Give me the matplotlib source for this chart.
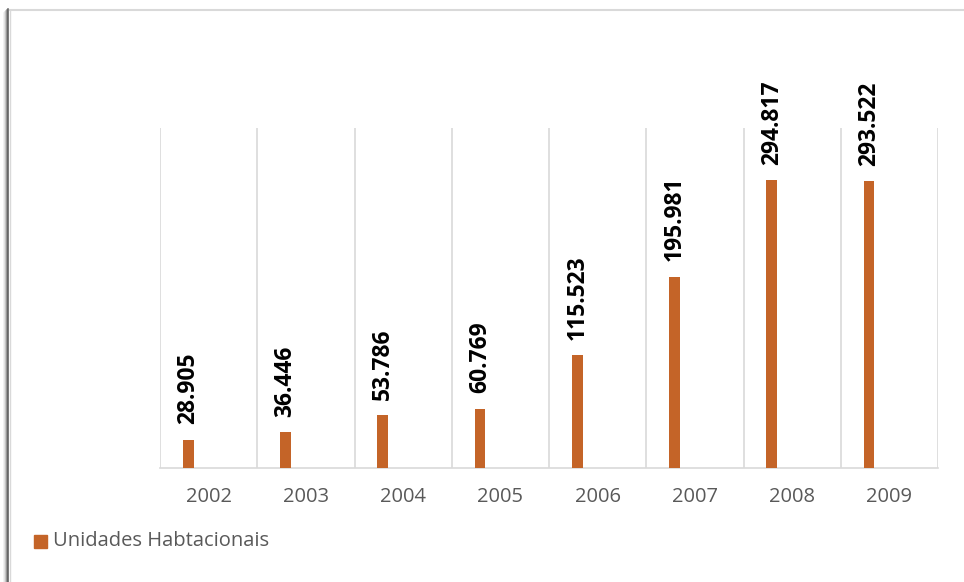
import matplotlib.pyplot as plt
from matplotlib.lines import Line2D
import numpy as np

plt.rcParams['font.family'] = ['Open Sans', 'DejaVu Sans']

anos = ['2002', '2003', '2004', '2005', '2006', '2007', '2008', '2009']
unidades = [28905, 36446, 53786, 60769, 115523, 195981, 294817, 293522]
rotulos = ['28.905', '36.446', '53.786', '60.769', '115.523', '195.981', '294.817', '293.522']
serie = 'Unidades Habtacionais'

cor = '#C46428'
W, H = 964, 582

fig = plt.figure(figsize=(W / 100, H / 100), dpi=100)
ax = fig.add_axes([160 / W, 1 - 468 / H, 778 / W, 340 / H])

x = np.arange(len(anos))
ax.bar(x - 0.5 + 0.29, unidades, width=0.11, color=cor, zorder=3)

for xi, v, txt in zip(x, unidades, rotulos):
    ax.annotate(txt, (xi - 0.5 + 0.29, v), xytext=(0, 11), textcoords='offset points',
                rotation=90, ha='center', va='bottom', fontsize=16.5,
                fontweight='bold', color='black')

ax.set_xlim(-0.5, len(anos) - 0.5)
ax.set_ylim(0, 348000)
ax.set_xticks(x)
ax.set_xticklabels(anos, fontsize=14.5, color='#595959')
ax.set_xticks(np.arange(-0.5, len(anos)), minor=True)
ax.tick_params(axis='x', which='both', length=0, pad=14)
ax.set_yticks([])
ax.grid(axis='x', which='minor', color='#D9D9D9', linewidth=1.2)
for s in ['left', 'right', 'top']:
    ax.spines[s].set_visible(False)
ax.spines['bottom'].set_color('#D9D9D9')
ax.spines['bottom'].set_linewidth(1.2)

# legenda
fig.patches.append(plt.Rectangle((34 / W, 1 - 548 / H), 13 / W, 13 / H,
                                 transform=fig.transFigure, color=cor))
fig.text(53 / W, 1 - 541 / H, serie, fontsize=14.5, color='#595959', va='center')

# moldura com sombra
fig.add_artist(Line2D([10 / W, 1], [1 - 10 / H, 1 - 10 / H], color='#D9D9D9', lw=1.5,
                      transform=fig.transFigure))
for xs, c in [(4, '#EEEEEE'), (5, '#DDDDDD'), (6, '#BBBBBB'), (7, '#888888'), (8, '#555555')]:
    fig.add_artist(Line2D([xs / W, xs / W], [0, 1 - (8 + 9 - xs) / H], color=c, lw=1.1,
                          transform=fig.transFigure))
fig.add_artist(Line2D([10 / W, 10 / W], [0, 1 - 10 / H], color='#D9D9D9', lw=1,
                      transform=fig.transFigure))

fig.savefig('out.png', dpi=100)
